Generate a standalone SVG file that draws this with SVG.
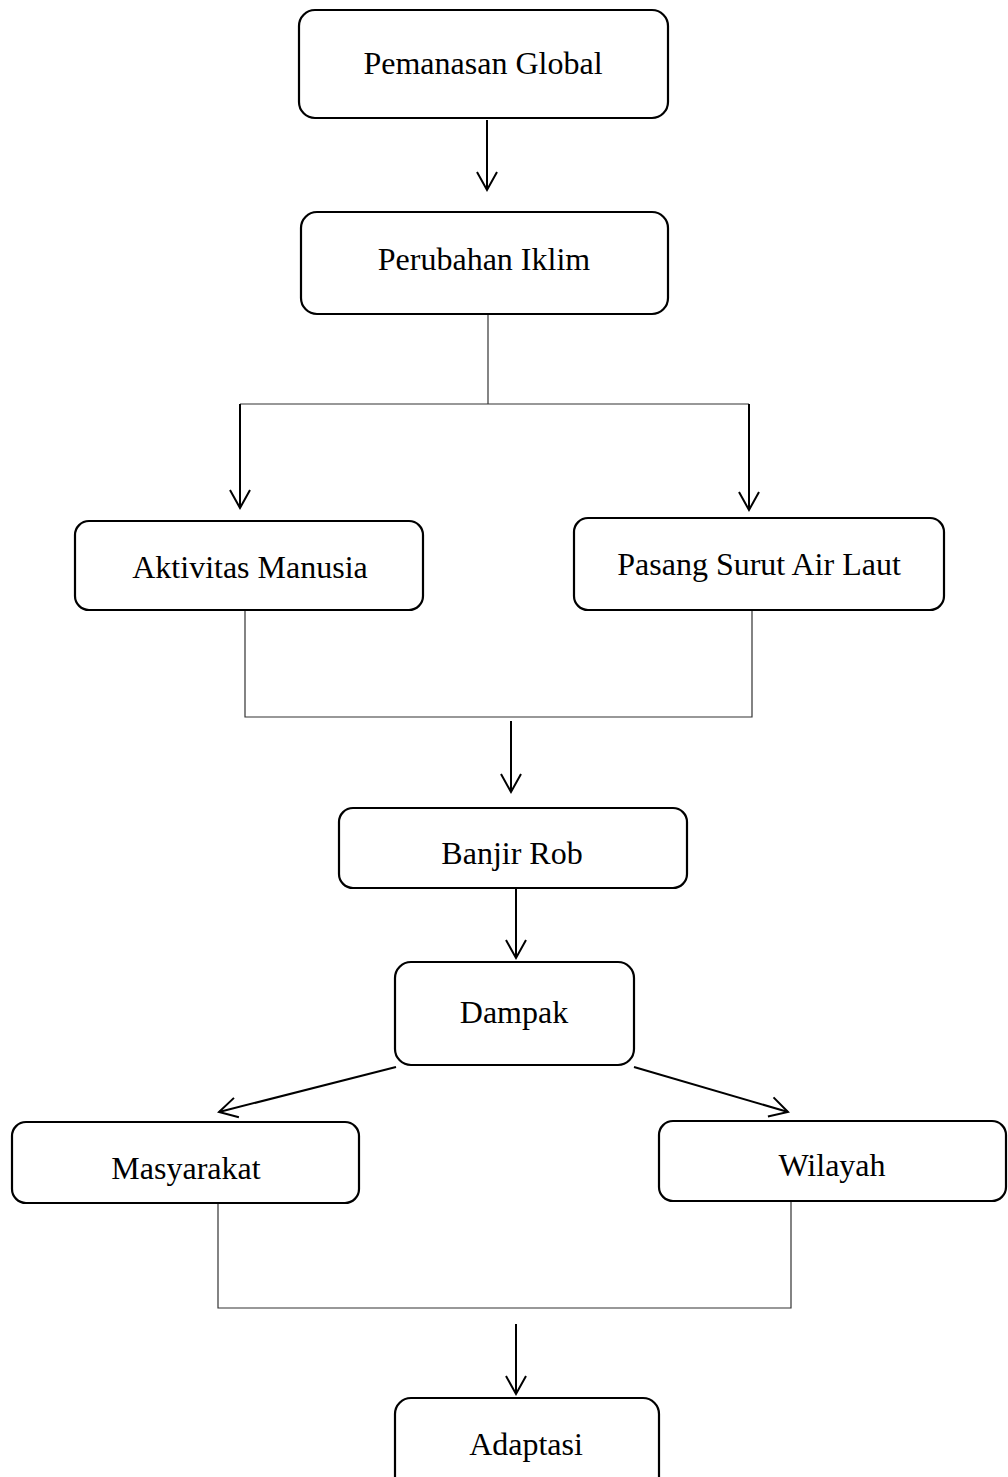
<svg xmlns="http://www.w3.org/2000/svg" width="1008" height="1477" viewBox="0 0 1008 1477">
<style>
.box{fill:#fff;stroke:#000;stroke-width:2.2}
.lbl{font-family:"Liberation Serif","Times New Roman",serif;font-size:32px;fill:#000;text-anchor:middle}
.arr{stroke:#000;stroke-width:2;fill:none;marker-end:url(#ah)}
.thin{stroke:#333;stroke-width:1.2;fill:none}
</style>
<defs>
<marker id="ah" markerWidth="26" markerHeight="26" viewBox="-22 -13 26 26" refX="0" refY="0" orient="auto" markerUnits="userSpaceOnUse">
<path d="M-18,-10 L0,0 L-18,10" fill="none" stroke="#000" stroke-width="2"/>
</marker>
</defs>
<rect width="1008" height="1477" fill="#fff"/>
<g id="connectors">
<line class="arr" x1="487" y1="120" x2="487" y2="190"/>
<polyline class="thin" points="488,314 488,404"/>
<line class="thin" x1="240" y1="404" x2="749" y2="404"/>
<line class="arr" x1="240" y1="404" x2="240" y2="508"/>
<line class="arr" x1="749" y1="404" x2="749" y2="510"/>
<polyline class="thin" points="245,610 245,717 752,717 752,610"/>
<line class="arr" x1="511" y1="721" x2="511" y2="792"/>
<line class="arr" x1="516" y1="888" x2="516" y2="958"/>
<line class="arr" x1="396" y1="1067" x2="219" y2="1112"/>
<line class="arr" x1="634" y1="1067" x2="788" y2="1112"/>
<polyline class="thin" points="218,1203 218,1308 791,1308 791,1202"/>
<line class="arr" x1="516" y1="1324" x2="516" y2="1394"/>
</g>
<g id="pemanasan"><rect class="box" x="299" y="10" width="369" height="108" rx="16"/><text class="lbl" x="483" y="74">Pemanasan Global</text></g>
<g id="perubahan"><rect class="box" x="301" y="212" width="367" height="102" rx="16"/><text class="lbl" x="484" y="270">Perubahan Iklim</text></g>
<g id="aktivitas"><rect class="box" x="75" y="521" width="348" height="89" rx="14"/><text class="lbl" x="250" y="578">Aktivitas Manusia</text></g>
<g id="pasang"><rect class="box" x="574" y="518" width="370" height="92" rx="14"/><text class="lbl" x="759" y="575">Pasang Surut Air Laut</text></g>
<g id="banjir"><rect class="box" x="339" y="808" width="348" height="80" rx="14"/><text class="lbl" x="512" y="864">Banjir Rob</text></g>
<g id="dampak"><rect class="box" x="395" y="962" width="239" height="103" rx="16"/><text class="lbl" x="514" y="1023">Dampak</text></g>
<g id="masyarakat"><rect class="box" x="12" y="1122" width="347" height="81" rx="14"/><text class="lbl" x="186" y="1179">Masyarakat</text></g>
<g id="wilayah"><rect class="box" x="659" y="1121" width="347" height="80" rx="14"/><text class="lbl" x="832" y="1176">Wilayah</text></g>
<g id="adaptasi"><rect class="box" x="395" y="1398" width="264" height="100" rx="16"/><text class="lbl" x="526" y="1455">Adaptasi</text></g>
</svg>
